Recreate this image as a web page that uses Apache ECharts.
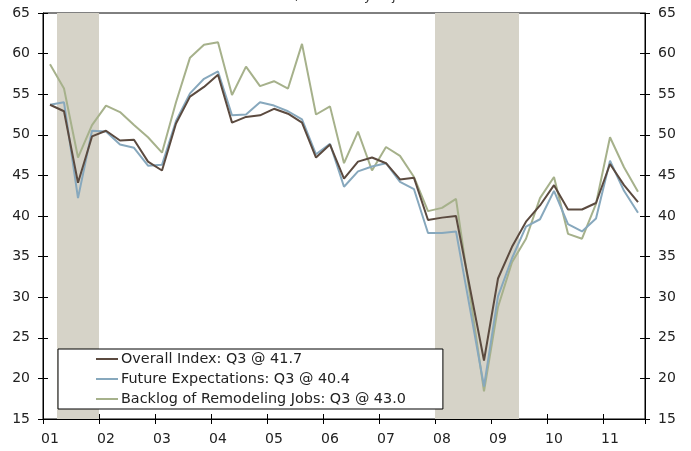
<!DOCTYPE html>
<html>
<head>
<meta charset="utf-8">
<script src="https://cdn.jsdelivr.net/npm/echarts@6/dist/echarts.min.js"></script>
<style>
  html, body { margin: 0; padding: 0; background: #fff; }
  #chart { width: 691px; height: 451px; }
</style>
</head>
<body>
<div id="chart"></div>
<script>
// Quarterly remodeling indexes, 2001 Q1 to 2011 Q3
const years = ['2001','2002','2003','2004','2005','2006','2007','2008','2009','2010','2011'];
const quarterNames = ['Q1','Q2','Q3','Q4'];
const lastQuarterCount = 3; // 2011 runs through Q3

const overallIndex = [53.7, 52.9, 44.1, 49.8, 50.5, 49.3, 49.4, 46.7, 45.6, 51.4,
  54.7, 55.9, 57.4, 51.5, 52.2, 52.4, 53.2, 52.6, 51.5, 47.2,
  48.8, 44.6, 46.7, 47.2, 46.5, 44.5, 44.7, 39.5, 39.8, 40.0,
  31.1, 22.2, 32.3, 36.2, 39.3, 41.3, 43.8, 40.8, 40.8, 41.6,
  46.4, 43.8, 41.7];
const futureExpectations = [53.7, 54.0, 42.2, 50.5, 50.4, 48.8, 48.4, 46.2, 46.3, 51.7,
  55.1, 56.9, 57.8, 52.4, 52.5, 54.0, 53.6, 52.9, 51.9, 47.6,
  48.9, 43.6, 45.5, 46.1, 46.5, 44.2, 43.3, 37.9, 37.9, 38.1,
  28.6, 19.0, 30.1, 34.8, 38.7, 39.6, 43.1, 39.0, 38.1, 39.7,
  46.8, 43.1, 40.4];
const backlogJobs = [58.7, 55.7, 47.2, 51.2, 53.6, 52.8, 51.2, 49.7, 47.8, 54.0,
  59.5, 61.1, 61.4, 54.9, 58.4, 56.0, 56.6, 55.7, 61.2, 52.5,
  53.5, 46.5, 50.4, 45.6, 48.5, 47.4, 44.8, 40.6, 41.0, 42.1,
  30.3, 18.4, 28.8, 34.3, 37.2, 42.2, 44.8, 37.8, 37.2, 41.5,
  49.7, 46.0, 43.0];

// Recession quarters (shaded)
const recessionQuarters = ['2001Q2','2001Q3','2001Q4',
  '2008Q1','2008Q2','2008Q3','2008Q4','2009Q1','2009Q2'];

const seriesNames = [
  'Overall Index: Q3 @ 41.7',
  'Future Expectations: Q3 @ 40.4',
  'Backlog of Remodeling Jobs: Q3 @ 43.0'
];
const seriesColors = ['#5b4a3f', '#87a8bd', '#a6b18b'];
const yTicks = { min: 15, max: 65, step: 5 };

const quarters = [];
years.forEach((y, yi) => {
  const n = yi === years.length - 1 ? lastQuarterCount : 4;
  for (let q = 0; q < n; q++) quarters.push(y + quarterNames[q]);
});
const shadeData = quarters.map(q => recessionQuarters.includes(q) ? yTicks.max : null);

const font = 'DejaVu Sans, Verdana, sans-serif';
const textColor = '#222';
// Plain 2px line swatch for the legend (tiny corner dots fix the 22x14 box)
const lineIcon = 'path://M0,0h0.01v0.01h-0.01z M0,6h22v2h-22z M21.99,13.99h0.01v0.01h-0.01z';

const chart = echarts.init(document.getElementById('chart'), null, { renderer: 'canvas' });

const yAxisBase = (position, inside, showLabel) => ({
  type: 'value',
  position: position,
  min: yTicks.min,
  max: yTicks.max,
  interval: yTicks.step,
  splitLine: { show: false },
  axisLine: { show: !inside, lineStyle: { color: '#000', width: 1 } },
  axisTick: { show: true, inside: inside, length: 5, lineStyle: { color: '#000', width: 1 } },
  axisLabel: { show: showLabel, margin: 13, color: textColor, fontFamily: font, fontSize: 14 }
});

const lineSeries = [overallIndex, futureExpectations, backlogJobs].map((values, i) => ({
  name: seriesNames[i],
  type: 'line',
  data: values,
  symbol: 'none',
  lineStyle: { color: seriesColors[i], width: 2 },
  itemStyle: { color: seriesColors[i] },
  z: 4 - i
}));

chart.setOption({
  animation: false,
  backgroundColor: '#fff',
  title: {
    text: 'Index, seasonally adjusted',
    left: 'center',
    top: -15,
    textStyle: { fontFamily: font, fontSize: 13, fontWeight: 'normal', color: '#333' }
  },
  grid: {
    left: 43, right: 46, top: 13, bottom: 32,
    show: true, borderColor: '#000', borderWidth: 1, backgroundColor: 'transparent'
  },
  legend: {
    data: seriesNames.map(n => ({ name: n, icon: lineIcon })),
    orient: 'vertical',
    left: 58,
    top: 349,
    itemWidth: 22,
    itemHeight: 14,
    itemGap: 6,
    padding: [3, 37, 3, 38],
    backgroundColor: '#fff',
    borderColor: '#000',
    borderWidth: 1,
    borderRadius: 0,
    textStyle: { fontFamily: font, fontSize: 14.4, color: textColor, padding: [0, 0, 0, -2] }
  },
  xAxis: [
    {
      type: 'category',
      data: quarters,
      boundaryGap: true,
      axisLine: { lineStyle: { color: '#000', width: 1 } },
      axisTick: { show: true, interval: 3, length: 5, lineStyle: { color: '#000' } },
      axisLabel: {
        interval: 3,
        margin: 13,
        color: textColor,
        fontFamily: font,
        fontSize: 14,
        formatter: v => v.slice(2, 4)
      },
      splitLine: { show: false }
    },
    {
      type: 'category',
      data: quarters,
      boundaryGap: true,
      position: 'bottom',
      axisLine: { show: false },
      axisTick: { show: true, inside: true, interval: 3, length: 5, lineStyle: { color: '#000' } },
      axisLabel: { show: false },
      splitLine: { show: false }
    }
  ],
  yAxis: [
    yAxisBase('left', false, true),
    yAxisBase('right', false, true),
    yAxisBase('left', true, false),
    yAxisBase('right', true, false)
  ],
  series: [
    {
      name: 'Recession',
      type: 'bar',
      data: shadeData,
      barWidth: '100%',
      barCategoryGap: 0,
      itemStyle: { color: '#d6d3c8' },
      z: 1,
      silent: true
    }
  ].concat(lineSeries)
});
</script>
</body>
</html>
